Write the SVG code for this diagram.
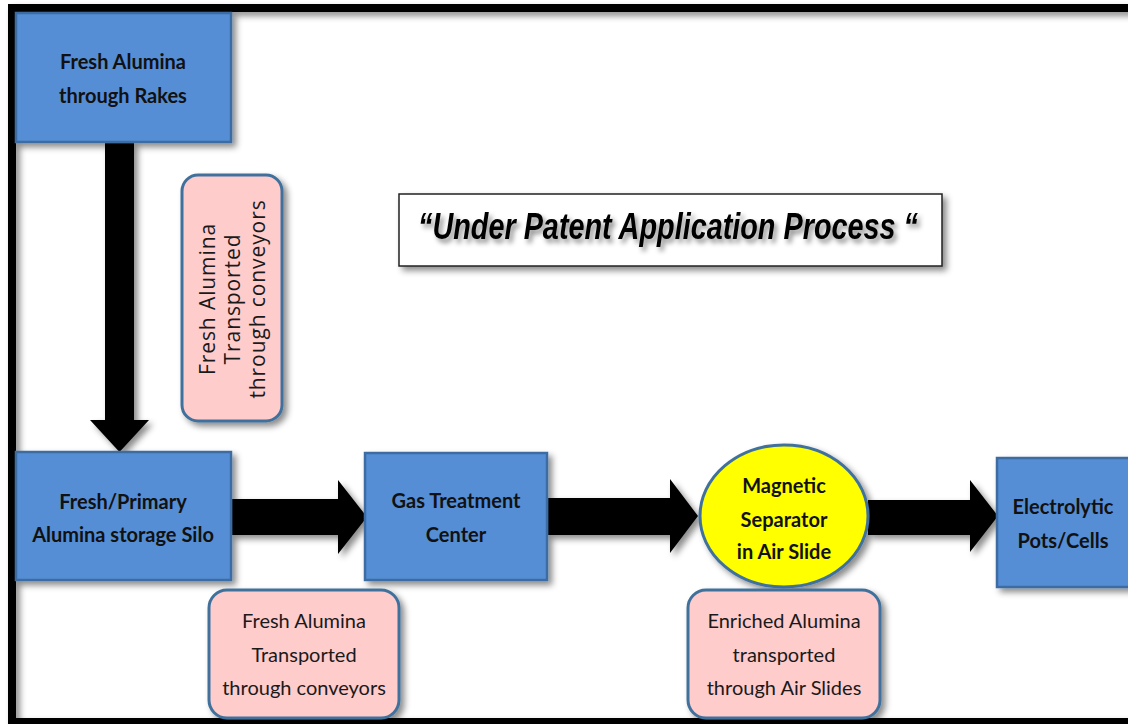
<svg xmlns="http://www.w3.org/2000/svg" width="1128" height="724" viewBox="0 0 1128 724">
  <defs>
    <filter id="shadow" x="-20%" y="-20%" width="150%" height="150%">
      <feDropShadow dx="4" dy="4" stdDeviation="3" flood-color="#000" flood-opacity="0.45"/>
    </filter>
    <filter id="textShadow" x="-10%" y="-30%" width="120%" height="180%">
      <feDropShadow dx="3" dy="4" stdDeviation="2.5" flood-color="#000" flood-opacity="0.45"/>
    </filter>
    <style>
      .box { fill: #558ED5; stroke: #3E6CA3; stroke-width: 2.5; filter: url(#shadow); }
      .note { fill: #FFCCCC; stroke: #41719C; stroke-width: 3; filter: url(#shadow); }
      .sep { fill: #FFFF00; stroke: #41719C; stroke-width: 3; filter: url(#shadow); }
      .arrow { fill: #000; filter: url(#shadow); }
      .lbl { font-family: Lato, "Open Sans", "Liberation Sans", sans-serif; font-weight: 700; font-size: 20px; fill: #111; text-anchor: middle; }
      .ntxt { font-family: Lato, "Open Sans", "Liberation Sans", sans-serif; font-size: 20px; fill: #1a1a1a; text-anchor: middle; }
      .vtxt { font-family: "Open Sans", "Noto Sans", sans-serif; font-size: 21px; letter-spacing: 0.9px; fill: #1a1a1a; text-anchor: middle; }
      .title { font-family: "Liberation Sans", Arial, sans-serif; font-weight: 700; font-style: italic; font-size: 36px; fill: #000; filter: url(#textShadow); }
    </style>
  </defs>

  <rect width="1128" height="724" fill="#fff"/>

  <!-- outer frame, open at the right edge -->
  <rect x="12" y="8" width="1140" height="714" fill="none" stroke="#000" stroke-width="8" filter="url(#shadow)"/>

  <!-- connectors -->
  <g id="connectors">
    <polygon class="arrow" points="105,142 134,142 134,420 149,420 119.5,452 90,420 105,420"/>
    <polygon class="arrow" points="231,499 338,499 338,480 367,517 338,554 338,535 231,535"/>
    <polygon class="arrow" points="547,498 670,498 670,479 698,516 670,553 670,535 547,535"/>
    <polygon class="arrow" points="868,500 970,500 970,480 998,516 970,552 970,535 868,535"/>
  </g>

  <!-- raw feed -->
  <g id="rakes">
    <rect class="box" x="16" y="13" width="215" height="129"/>
    <text class="lbl" x="123" y="69">Fresh Alumina</text>
    <text class="lbl" x="123" y="103">through Rakes</text>
  </g>

  <!-- conveyor note beside the vertical arrow -->
  <g id="note-conveyor-vertical">
    <rect class="note" x="182" y="175" width="100" height="246" rx="16"/>
    <g transform="translate(232,299) rotate(-90)">
      <text class="vtxt" x="0" y="-17">Fresh Alumina</text>
      <text class="vtxt" x="0" y="8">Transported</text>
      <text class="vtxt" x="0" y="33">through conveyors</text>
    </g>
  </g>

  <!-- heading -->
  <g id="title">
    <rect x="399" y="194" width="543" height="72" fill="#fff" stroke="#222" stroke-width="1.5" filter="url(#shadow)"/>
    <text class="title" x="418" y="239" textLength="500" lengthAdjust="spacingAndGlyphs">“Under Patent Application Process “</text>
  </g>

  <!-- storage silo -->
  <g id="silo">
    <rect class="box" x="16" y="452" width="215" height="128"/>
    <text class="lbl" x="123" y="509">Fresh/Primary</text>
    <text class="lbl" x="123" y="542">Alumina storage Silo</text>
  </g>

  <!-- gas treatment -->
  <g id="gtc">
    <rect class="box" x="365" y="453" width="182" height="127"/>
    <text class="lbl" x="456" y="508">Gas Treatment</text>
    <text class="lbl" x="456" y="542">Center</text>
  </g>

  <!-- magnetic separator -->
  <g id="separator">
    <ellipse class="sep" cx="784" cy="516" rx="84" ry="71"/>
    <text class="lbl" x="784" y="493">Magnetic</text>
    <text class="lbl" x="784" y="527">Separator</text>
    <text class="lbl" x="784" y="559">in Air Slide</text>
  </g>

  <!-- pots -->
  <g id="pots">
    <rect class="box" x="997" y="458" width="140" height="129"/>
    <text class="lbl" x="1063" y="514">Electrolytic</text>
    <text class="lbl" x="1063" y="548">Pots/Cells</text>
  </g>

  <!-- conveyor note below -->
  <g id="note-conveyor">
    <rect class="note" x="209" y="590" width="190" height="128" rx="18"/>
    <text class="ntxt" x="304" y="628">Fresh Alumina</text>
    <text class="ntxt" x="304" y="662">Transported</text>
    <text class="ntxt" x="304" y="695">through conveyors</text>
  </g>

  <!-- air slide note -->
  <g id="note-airslide">
    <rect class="note" x="688" y="590" width="192" height="128" rx="18"/>
    <text class="ntxt" x="784" y="628">Enriched Alumina</text>
    <text class="ntxt" x="784" y="662">transported</text>
    <text class="ntxt" x="784" y="695">through Air Slides</text>
  </g>
</svg>
